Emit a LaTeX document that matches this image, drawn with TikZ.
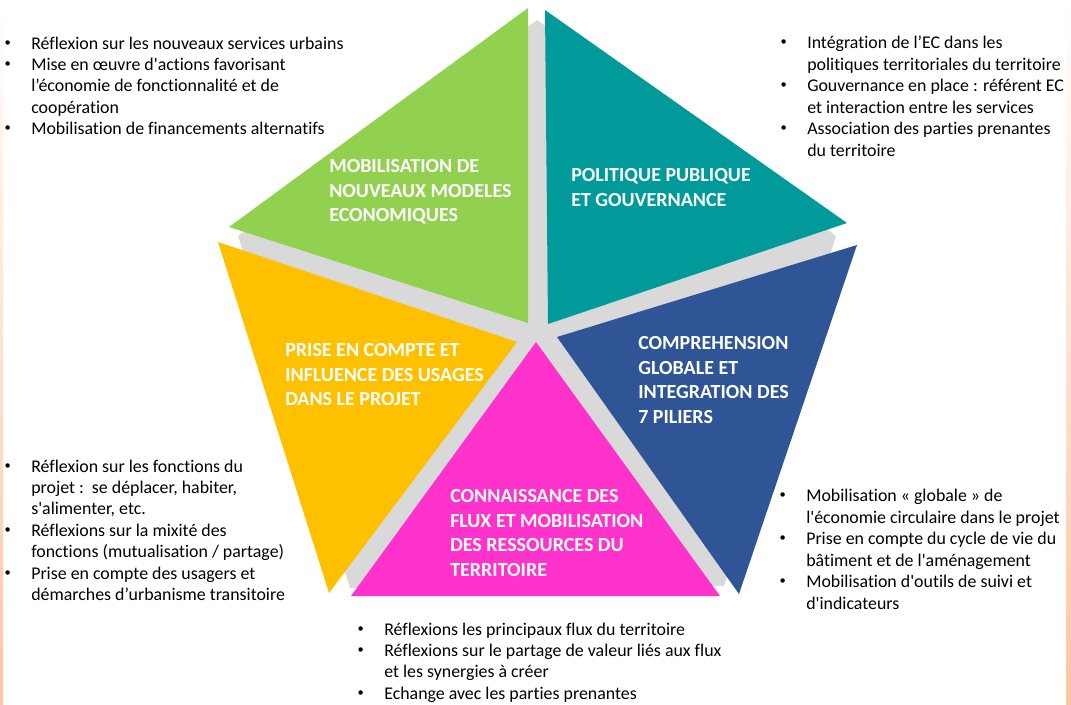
\documentclass[tikz,border=0pt]{standalone}
\usepackage{fontspec}
\setmainfont{Carlito}[Ligatures={TeX,NoCommon}]
\usetikzlibrary{positioning}

\definecolor{vert}{HTML}{92D050}
\definecolor{canard}{HTML}{009A9A}
\definecolor{bleu}{HTML}{2F5597}
\definecolor{rose}{HTML}{FF33CC}
\definecolor{jaune}{HTML}{FFC000}
\definecolor{gris}{HTML}{D9D9D9}
\definecolor{peche}{HTML}{FFC4A2}

\newcommand{\bl}{\makebox[21pt][l]{\hspace*{1pt}\raisebox{0.35ex}{\scalebox{0.7}{\textbullet}}}}
\newcommand{\ind}{\hspace*{21pt}}
\newcommand{\ap}{\textquotesingle}

\begin{document}
\begin{tikzpicture}[x=0.75pt, y=-0.75pt,
        lst/.style={anchor=base west, inner sep=0pt, align=left, font=\fontsize{13.4}{16.1}\selectfont},
        titre/.style={anchor=base west, inner sep=0pt, align=left, text=white, font=\fontsize{15}{18.4}\selectfont\bfseries}]
        \useasboundingbox (0,0) rectangle (1071,704);
        \shade[top color=white, bottom color=peche] (0,0) rectangle (3,704);
        \shade[top color=white, bottom color=peche] (1066,0) rectangle (1071,704);
        \fill[gris] (537,20) -- (836,236) -- (724,586) -- (350,588) -- (238,236) -- cycle;
        \fill[vert] (528,8) -- (528,323) -- (229,227) -- cycle;
        \fill[canard] (545,10) -- (847,223) -- (548,324) -- cycle;
        \fill[bleu] (557,337) -- (857,245) -- (739,594) -- cycle;
        \fill[rose] (536,342) -- (720,596) -- (351,596) -- cycle;
        \fill[jaune] (218,242) -- (517,342) -- (329,593) -- cycle;
        \node[titre] (mob) at (329,221.6) {MOBILISATION DE\\NOUVEAUX MODELES\\ECONOMIQUES};
        \node[titre] (pol) at (571,206) {POLITIQUE PUBLIQUE\\ET GOUVERNANCE};
        \node[titre] (comp) at (638,423.1) {COMPREHENSION\\GLOBALE ET\\INTEGRATION DES\\7 PILIERS};
        \node[titre] (usa) at (285,405.6) {PRISE EN COMPTE ET\\INFLUENCE DES USAGES\\DANS LE PROJET};
        \node[titre] (flux) at (450,576.1) {CONNAISSANCE DES\\FLUX ET MOBILISATION\\DES RESSOURCES DU\\TERRITOIRE};
        \node[lst] (lmob) at (3,134.9) {\bl Réflexion sur les nouveaux services urbains\\
                \bl Mise en œuvre d\ap actions favorisant\\
                \ind l’économie de fonctionnalité et de\\
                \ind coopération\\
                \bl Mobilisation de financements alternatifs};
        \node[lst] (lpol) at (779,156.3) {\bl Intégration de l’EC dans les\\
                \ind politiques territoriales du territoire\\
                \bl Gouvernance en place : référent EC\\
                \ind et interaction entre les services\\
                \bl Association des parties prenantes\\
                \ind du territoire};
        \node[lst] (lusa) at (3,600.8) {\bl Réflexion sur les fonctions du\\
                \ind projet :\ \ se déplacer, habiter,\\
                \ind s\ap alimenter, etc.\\
                \bl Réflexions sur la mixité des\\
                \ind fonctions (mutualisation / partage)\\
                \bl Prise en compte des usagers et\\
                \ind démarches d’urbanisme transitoire};
        \node[lst] (lcomp) at (778,609.3) {\bl Mobilisation « globale » de\\
                \ind l\ap économie circulaire dans le projet\\
                \bl Prise en compte du cycle de vie du\\
                \ind bâtiment et de l\ap aménagement\\
                \bl Mobilisation d\ap outils de suivi et\\
                \ind d\ap indicateurs};
        \node[lst] (lflux) at (356,699.4) {\bl Réflexions les principaux flux du territoire\\
                \bl Réflexions sur le partage de valeur liés aux flux\\
                \ind et les synergies à créer\\
                \bl Echange avec les parties prenantes};
\end{tikzpicture}
\end{document}
